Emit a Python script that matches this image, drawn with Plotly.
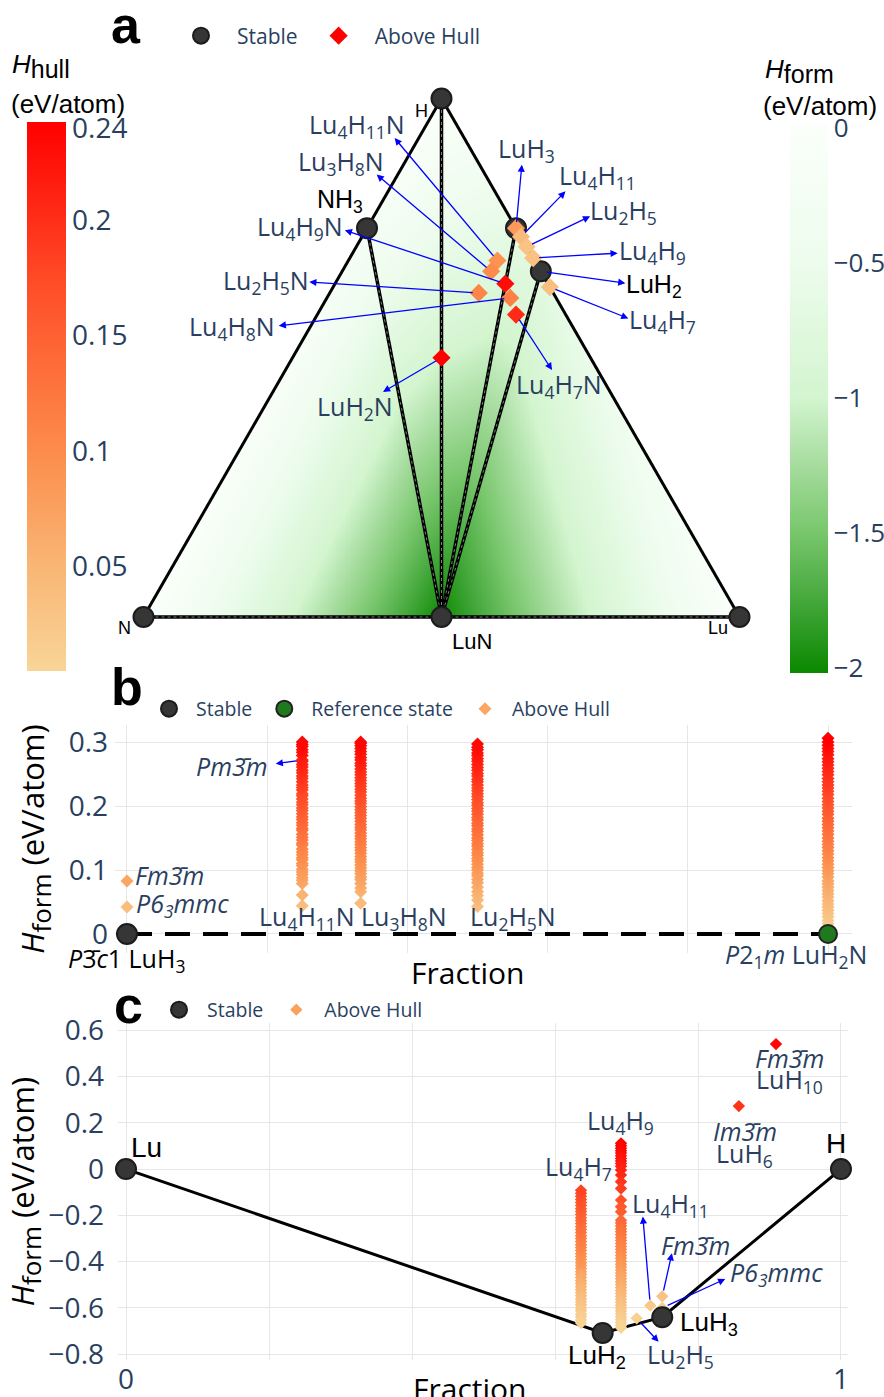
import re
import numpy as np
import plotly.graph_objects as go

W, H = 884, 1397
R3 = np.sqrt(3) / 2

# ======================= DATA =======================
# ---- Panel a: Lu-H-N ternary (formula units Lu, H, N) ----
a_stable_names = ["N", "H", "Lu", "NH3", "LuN", "LuH3", "LuH2"]
a_stable_lu = [0, 0, 1, 0, 1, 1, 1]
a_stable_h = [0, 1, 0, 3, 0, 3, 2]
a_stable_n = [1, 0, 0, 1, 1, 0, 0]
a_stable_hform = [0.0, 0.0, 0.0, -0.20, -2.00, -0.64, -0.70]
a_hull_facets = [("N", "NH3", "LuN"), ("NH3", "H", "LuN"), ("H", "LuH3", "LuN"),
                 ("LuH3", "LuH2", "LuN"), ("LuH2", "Lu", "LuN")]
a_outer_edges = [("N", "H"), ("H", "Lu")]
a_tie_lines = [("N", "Lu"), ("LuN", "NH3"), ("LuN", "H"), ("LuN", "LuH3"), ("LuN", "LuH2")]

a_above_names = ["LuH2N", "Lu4H11N", "Lu3H8N", "Lu4H9N", "Lu2H5N", "Lu4H8N", "Lu4H7N",
                 "LuH3", "Lu4H11", "Lu2H5", "Lu4H9", "Lu4H7"]
a_above_lu = [1, 4, 3, 4, 2, 4, 4, 1, 4, 2, 4, 4]
a_above_h = [2, 11, 8, 9, 5, 8, 7, 3, 11, 5, 9, 7]
a_above_n = [1, 1, 1, 1, 1, 1, 1, 0, 0, 0, 0, 0]
a_above_ehull = [0.243, 0.092, 0.100, 0.232, 0.108, 0.112, 0.205, 0.083, 0.042, 0.030, 0.032, 0.036]
a_hull_ticks = [0.05, 0.1, 0.15, 0.2, 0.24]
a_form_ticks = [0, -0.5, -1, -1.5, -2]

# ---- Panel b: LuH3 -> LuH2N section (fraction of LuH2N) ----
b_stable_names = ["LuH3"]
b_stable_x = [0.0]
b_stable_y = [0.0]
b_ref_names = ["LuH2N"]
b_ref_x = [1.0]
b_ref_y = [0.0]
b_groups = ["LuH3", "Lu4H11N", "Lu3H8N", "Lu2H5N", "LuH2N"]
b_group_x = [0.0, 0.25, 1 / 3, 0.5, 1.0]
b_luh3_y = [0.083, 0.042]
b_lu4h11n_y = [0.044, 0.061, 0.079, 0.084, 0.088, 0.093, 0.097, 0.101, 0.107, 0.110, 0.116, 0.119,
               0.124, 0.128, 0.133, 0.139, 0.142, 0.147, 0.151, 0.156, 0.162, 0.165, 0.170, 0.174,
               0.179, 0.183, 0.188, 0.193, 0.197, 0.202, 0.206, 0.211, 0.216, 0.219, 0.225, 0.229,
               0.233, 0.238, 0.243, 0.247, 0.252, 0.256, 0.261, 0.265, 0.270, 0.272, 0.279, 0.284,
               0.288, 0.293, 0.296, 0.300]
b_lu3h8n_y = [0.048, 0.066, 0.072, 0.079, 0.085, 0.089, 0.094, 0.099, 0.103, 0.108, 0.113, 0.117,
              0.121, 0.126, 0.131, 0.135, 0.140, 0.144, 0.149, 0.153, 0.158, 0.163, 0.167, 0.171,
              0.176, 0.181, 0.185, 0.190, 0.194, 0.199, 0.204, 0.208, 0.212, 0.217, 0.222, 0.226,
              0.231, 0.235, 0.240, 0.244, 0.249, 0.253, 0.258, 0.263, 0.267, 0.272, 0.276, 0.281,
              0.285, 0.290, 0.294, 0.298, 0.300]
b_lu2h5n_y = [0.043, 0.053, 0.060, 0.066, 0.073, 0.080, 0.085, 0.091, 0.095, 0.100, 0.104, 0.109,
              0.114, 0.118, 0.123, 0.127, 0.132, 0.137, 0.141, 0.146, 0.150, 0.155, 0.160, 0.164,
              0.169, 0.173, 0.178, 0.182, 0.187, 0.192, 0.196, 0.201, 0.205, 0.210, 0.215, 0.219,
              0.224, 0.228, 0.233, 0.238, 0.242, 0.247, 0.251, 0.256, 0.260, 0.265, 0.270, 0.274,
              0.279, 0.283, 0.288, 0.292, 0.297]
b_luh2n_y = [0.006, 0.011, 0.016, 0.021, 0.027, 0.032, 0.037, 0.042, 0.047, 0.052, 0.058, 0.063,
             0.068, 0.073, 0.078, 0.083, 0.089, 0.094, 0.099, 0.104, 0.109, 0.114, 0.119, 0.125,
             0.130, 0.135, 0.140, 0.145, 0.150, 0.156, 0.161, 0.166, 0.171, 0.176, 0.181, 0.187,
             0.192, 0.197, 0.202, 0.207, 0.212, 0.218, 0.223, 0.228, 0.233, 0.238, 0.243, 0.249,
             0.254, 0.259, 0.264, 0.269, 0.274, 0.280, 0.285, 0.290, 0.295, 0.300, 0.306]
b_group_y = [b_luh3_y, b_lu4h11n_y, b_lu3h8n_y, b_lu2h5n_y, b_luh2n_y]
b_pm3m_point = (0.25, 0.272)
b_ticks_y = [0, 0.1, 0.2, 0.3]

# ---- Panel c: Lu-H binary hull (H fraction) ----
c_stable_names = ["Lu", "LuH2", "LuH3", "H"]
c_stable_x = [0.0, 2 / 3, 0.75, 1.0]
c_stable_y = [0.0, -0.708, -0.640, 0.0]
c_lu4h7_x = 7 / 11
c_lu4h7_y = [-0.444, -0.430, -0.417, -0.405, -0.391, -0.378, -0.366, -0.352, -0.339, -0.327,
             -0.313, -0.300, -0.288, -0.274, -0.261, -0.249, -0.235, -0.222, -0.210, -0.196,
             -0.183, -0.171, -0.157, -0.144, -0.132, -0.118, -0.105, -0.092,
             -0.456, -0.469, -0.483, -0.495, -0.508, -0.522, -0.534, -0.547, -0.561, -0.573,
             -0.586, -0.600, -0.612, -0.627, -0.638, -0.652, -0.665]
c_lu4h9_x = 9 / 13
c_lu4h9_y = [0.111, 0.101, 0.090, 0.079, 0.069, 0.057, 0.046, 0.035, 0.024, 0.012, -0.004,
             -0.026, -0.055, -0.084, -0.134, -0.163, -0.184, -0.221, -0.233, -0.246, -0.259,
             -0.271, -0.284, -0.297, -0.309, -0.322, -0.335, -0.347, -0.360, -0.373, -0.385,
             -0.398, -0.411, -0.423, -0.436, -0.449, -0.461, -0.474, -0.487, -0.499, -0.512,
             -0.525, -0.537, -0.550, -0.563, -0.575, -0.588, -0.601, -0.613, -0.626, -0.639,
             -0.651, -0.664, -0.676, -0.686]
c_other_names = ["LuH3 Fm-3m", "LuH3 P63mmc", "Lu4H11", "Lu2H5", "LuH6 Im-3m", "LuH10 Fm-3m"]
c_other_x = [0.75, 0.75, 11 / 15, 5 / 7, 6 / 7, 10 / 11]
c_other_y = [-0.550, -0.600, -0.590, -0.645, 0.272, 0.540]
c_ticks_x = [0, 0.2, 0.4, 0.6, 0.8, 1.0]
c_ticktext_x = ["0", "", "", "", "", "1"]

# ======================= STYLE =======================
HULL_CS = [[0.0, "#f8d597"], [0.2, "#f9b473"], [0.4, "#fc8c4b"], [0.7, "#ff4e28"], [1.0, "#ff0000"]]
FORM_CS = [[0.0, "#0a8800"], [0.133, "#45a83c"], [0.256, "#78c66c"], [0.379, "#a6dc9e"],
           [0.502, "#d3f5cf"], [0.75, "#edfced"], [1.0, "#fbfffb"]]
GRID = "#e6e6e6"
BLUE_TXT = "#2a3f5f"
OS = "Open Sans"
LS = "Liberation Sans, Arial"
STABLE_MARKER = dict(color="#363636", size=20, line=dict(color="#1c1c1c", width=2))
TICK = 28


def sub(f):
    return re.sub(r"(\d+)", r"<sub>\1</sub>", f)


def tern(lu, h, n):
    t = lu + h + n
    return lu / t + 0.5 * h / t, R3 * h / t


OV3 = "3\u0304"

fig = go.Figure()

# ---------------- Panel a ----------------
pos = {nm: tern(l, h, n) for nm, l, h, n in zip(a_stable_names, a_stable_lu, a_stable_h, a_stable_n)}
eng = dict(zip(a_stable_names, a_stable_hform))

gx = np.linspace(0, 1, 361)
gy = np.linspace(0, R3, 313)
GX, GY = np.meshgrid(gx, gy)
Z = np.full(GX.shape, np.nan)
for f in a_hull_facets:
    (x1, y1), (x2, y2), (x3, y3) = [pos[k] for k in f]
    e1, e2, e3 = [eng[k] for k in f]
    det = (y2 - y3) * (x1 - x3) + (x3 - x2) * (y1 - y3)
    l1 = ((y2 - y3) * (GX - x3) + (x3 - x2) * (GY - y3)) / det
    l2 = ((y3 - y1) * (GX - x3) + (x1 - x3) * (GY - y3)) / det
    l3 = 1 - l1 - l2
    ins = (l1 >= -1e-9) & (l2 >= -1e-9) & (l3 >= -1e-9)
    Z[ins] = (l1 * e1 + l2 * e2 + l3 * e3)[ins]

fig.add_trace(go.Heatmap(
    x=gx, y=gy, z=Z, colorscale=FORM_CS, zmin=-2.02, zmax=0.01, zsmooth=False,
    hoverinfo="skip", xaxis="x", yaxis="y", showlegend=False,
    colorbar=dict(x=790 / W, xanchor="left", xpad=0, y=1 - 125 / H, yanchor="top", ypad=0,
                  thickness=38, thicknessmode="pixels", len=548, lenmode="pixels",
                  outlinewidth=0, tickvals=a_form_ticks, tickfont=dict(size=26, family=OS, color=BLUE_TXT))))

for a, b in a_outer_edges:
    fig.add_trace(go.Scatter(x=[pos[a][0], pos[b][0]], y=[pos[a][1], pos[b][1]], mode="lines",
                             line=dict(color="black", width=3), showlegend=False, hoverinfo="skip",
                             xaxis="x", yaxis="y", cliponaxis=False))
for a, b in a_tie_lines:
    xs = [pos[a][0], pos[b][0]]
    ys = [pos[a][1], pos[b][1]]
    fig.add_trace(go.Scatter(x=xs, y=ys, mode="lines", line=dict(color="black", width=3.5),
                             showlegend=False, hoverinfo="skip", xaxis="x", yaxis="y", cliponaxis=False))
    fig.add_trace(go.Scatter(x=xs, y=ys, mode="lines", line=dict(color="#7a7a7a", width=1, dash="dot"),
                             showlegend=False, hoverinfo="skip", xaxis="x", yaxis="y", cliponaxis=False))

fig.add_trace(go.Scatter(
    x=[pos[k][0] for k in a_stable_names], y=[pos[k][1] for k in a_stable_names],
    mode="markers", marker=STABLE_MARKER, name="Stable", text=a_stable_names,
    xaxis="x", yaxis="y", legend="legend", cliponaxis=False))

apos = [tern(l, h, n) for l, h, n in zip(a_above_lu, a_above_h, a_above_n)]
apos_d = dict(zip(a_above_names, apos))
fig.add_trace(go.Scatter(
    x=[p[0] for p in apos], y=[p[1] for p in apos], mode="markers", name="Above Hull",
    text=a_above_names, xaxis="x", yaxis="y", legend="legend", cliponaxis=False,
    marker=dict(symbol="diamond", size=14, color=a_above_ehull, colorscale=HULL_CS,
                cmin=0.0045, cmax=0.2426, showscale=True,
                colorbar=dict(x=27 / W, xanchor="left", xpad=0, y=1 - 122 / H, yanchor="top", ypad=0,
                              thickness=39, thicknessmode="pixels", len=549, lenmode="pixels",
                              outlinewidth=0, tickvals=a_hull_ticks,
                              tickfont=dict(size=TICK, family=OS, color=BLUE_TXT)))))

# ---------------- Panel b ----------------
bx, by = [], []
for gxv, ys in zip(b_group_x, b_group_y):
    bx += [gxv] * len(ys)
    by += ys
fig.add_trace(go.Scatter(x=[b_stable_x[0], b_ref_x[0]], y=[b_stable_y[0], b_ref_y[0]], mode="lines",
                         line=dict(color="black", width=4, dash="25px,13px"), showlegend=False,
                         hoverinfo="skip", xaxis="x2", yaxis="y2"))
fig.add_trace(go.Scatter(x=bx, y=by, mode="markers", name="Above Hull", xaxis="x2", yaxis="y2",
                         legend="legend2", legendrank=3, cliponaxis=False,
                         marker=dict(symbol="diamond", size=10, color=by, colorscale=HULL_CS,
                                     cmin=0.0, cmax=0.306, showscale=False)))
fig.add_trace(go.Scatter(x=b_stable_x, y=b_stable_y, mode="markers", name="Stable", text=b_stable_names,
                         marker=STABLE_MARKER, xaxis="x2", yaxis="y2", legend="legend2", legendrank=1,
                         cliponaxis=False))
fig.add_trace(go.Scatter(x=b_ref_x, y=b_ref_y, mode="markers", name="Reference state", text=b_ref_names,
                         marker=dict(color="#1f7a1f", size=18, line=dict(color="#222", width=2)),
                         xaxis="x2", yaxis="y2", legend="legend2", legendrank=2, cliponaxis=False))

# ---------------- Panel c ----------------
cx = [c_lu4h7_x] * len(c_lu4h7_y) + [c_lu4h9_x] * len(c_lu4h9_y) + c_other_x
cy = c_lu4h7_y + c_lu4h9_y + c_other_y
c_ehull = list(np.array(cy) - np.interp(cx, c_stable_x, c_stable_y))
fig.add_trace(go.Scatter(x=c_stable_x, y=c_stable_y, mode="lines", line=dict(color="black", width=3),
                         showlegend=False, hoverinfo="skip", xaxis="x3", yaxis="y3"))
fig.add_trace(go.Scatter(x=cx, y=cy, mode="markers", name="Above Hull", xaxis="x3", yaxis="y3",
                         legend="legend3", legendrank=2, cliponaxis=False,
                         marker=dict(symbol="diamond", size=9.5, color=c_ehull, colorscale=HULL_CS,
                                     cmin=0.0, cmax=0.79, showscale=False)))
fig.add_trace(go.Scatter(x=c_stable_x, y=c_stable_y, mode="markers", name="Stable", text=c_stable_names,
                         marker=STABLE_MARKER, xaxis="x3", yaxis="y3", legend="legend3", legendrank=1,
                         cliponaxis=False))

# ======================= ANNOTATIONS =======================
anns = []


def label(xr, yr, x, y, text, dx, dy, size=25, color=BLUE_TXT, family=OS):
    anns.append(dict(xref=xr, yref=yr, x=x, y=y, text=text, showarrow=False, xshift=dx, yshift=-dy,
                     xanchor="center", yanchor="middle", font=dict(size=size, color=color, family=family)))


def arrow(xr, yr, x, y, hx, hy):
    anns.append(dict(xref=xr, yref=yr, x=x, y=y, ax=hx, ay=hy, text="", showarrow=True,
                     arrowside="start", startarrowhead=2, startarrowsize=1.1, arrowwidth=1.3,
                     arrowcolor="#0000ff", standoff=6))


# panel a labels: (name, arrow head offset px, label offset px)
a_specs = [("Lu4H11N", (-104, -124), (-140, -134.7)), ("Lu3H8N", (-116, -98), (-150, -108.5)),
           ("Lu4H9N", (-162, -54), (-205, -56)), ("Lu2H5N", (-171, -11), (-212.6, -11.2)),
           ("Lu4H8N", (-233, 28), (-277.8, 29.6)), ("LuH2N", (-60, 35), (-86.8, 49.7)),
           ("LuH3", (6, -65), (10.7, -78.4)), ("Lu4H11", (46, -47), (76.5, -60.5)),
           ("Lu2H5", (65, -31), (97, -35)), ("Lu4H9", (86, -5), (119.8, -6.8)),
           ("Lu4H7", (80, 32), (113, 33.4)), ("Lu4H7N", (37, 57), (43, 71.3))]
for nm, hd, lb in a_specs:
    p = apos_d[nm]
    arrow("x", "y", p[0], p[1], *hd)
    label("x", "y", p[0], p[1], sub(nm), *lb)
p = pos["LuH2"]
arrow("x", "y", p[0], p[1], 86, 12)
label("x", "y", p[0], p[1], sub("LuH2"), 113.4, 14.2, color="black", family=LS)
label("x", "y", pos["NH3"][0], pos["NH3"][1], sub("NH3"), -27.3, -27.3, color="black", family=LS)
label("x", "y", pos["H"][0], pos["H"][1], "H", -20, 12.3, size=18, color="black", family=LS)
label("x", "y", pos["N"][0], pos["N"][1], "N", -19.5, 10.5, size=18, color="black", family=LS)
label("x", "y", pos["Lu"][0], pos["Lu"][1], "Lu", -22, 10.5, size=18, color="black", family=LS)
label("x", "y", pos["LuN"][0], pos["LuN"][1], "LuN", 30, 24.5, size=22, color="black", family=LS)

# panel b labels
arrow("x2", "y2", b_pm3m_point[0], b_pm3m_point[1], -28, 4)
label("x2", "y2", b_pm3m_point[0], b_pm3m_point[1], "<i>Pm" + OV3 + "m</i>", -70, 5.6)
label("x2", "y2", 0, b_luh3_y[0], "<i>Fm" + OV3 + "m</i>", 43, -6)
label("x2", "y2", 0, b_luh3_y[1], "<i>P6<sub>3</sub>mmc</i>", 55.5, -2.4)
label("x2", "y2", 0, 0, "<i>P</i>" + OV3 + "<i>c</i>1 LuH<sub>3</sub>", 0, 25.5, color="black")
label("x2", "y2", 0.25, 0, sub("Lu4H11N"), 4.5, -16)
label("x2", "y2", 1 / 3, 0, sub("Lu3H8N"), 43.3, -16)
label("x2", "y2", 0.5, 0, sub("Lu2H5N"), 35, -16.5)
label("x2", "y2", 1, 0, "<i>P</i>2<sub>1</sub><i>m</i> LuH<sub>2</sub>N", -32, 22)

# panel c labels
label("x3", "y3", 0, 0, "Lu", 20, -22, size=28, color="black", family=LS)
label("x3", "y3", 1, 0, "H", -4.5, -26, size=28, color="black", family=LS)
label("x3", "y3", c_stable_x[1], c_stable_y[1], sub("LuH2"), -5.2, 24, size=26, color="black", family=LS)
label("x3", "y3", c_stable_x[2], c_stable_y[2], sub("LuH3"), 47, 6, size=26, color="black", family=LS)
label("x3", "y3", c_lu4h7_x, max(c_lu4h7_y), sub("Lu4H7"), -3, -23)
label("x3", "y3", c_lu4h9_x, max(c_lu4h9_y), sub("Lu4H9"), -0.5, -22)
arrow("x3", "y3", c_other_x[2], c_other_y[2], -7.6, -90.6)
label("x3", "y3", c_other_x[2], c_other_y[2], sub("Lu4H11"), 19.7, -101.6)
arrow("x3", "y3", c_other_x[0], c_other_y[0], 10, -44.6)
label("x3", "y3", c_other_x[0], c_other_y[0], "<i>Fm" + OV3 + "m</i>", 33.3, -51.3)
arrow("x3", "y3", c_other_x[1], c_other_y[1], 64.5, -29.6)
label("x3", "y3", c_other_x[1], c_other_y[1], "<i>P6<sub>3</sub>mmc</i>", 113.8, -34.9)
arrow("x3", "y3", c_other_x[3], c_other_y[3], 23.3, 25)
label("x3", "y3", c_other_x[3], c_other_y[3], sub("Lu2H5"), 43.6, 36.7)
label("x3", "y3", c_other_x[4], c_other_y[4], "<i>Im" + OV3 + "m</i>", 5.8, 24.5)
label("x3", "y3", c_other_x[4], c_other_y[4], sub("LuH6"), 5.4, 48)
label("x3", "y3", c_other_x[5], c_other_y[5], "<i>Fm" + OV3 + "m</i>", 13.5, 14)
label("x3", "y3", c_other_x[5], c_other_y[5], sub("LuH10"), 13.3, 36)

# panel letters, colorbar titles, x titles
for t, x, y in [("a", 126, 24.5), ("b", 127.5, 687), ("c", 128, 1005)]:
    anns.append(dict(xref="paper", yref="paper", x=x / W, y=1 - y / H, text="<b>" + t + "</b>",
                     showarrow=False, xanchor="center", yanchor="middle",
                     font=dict(size=52, color="black", family=LS)))
for t, x, y in [("<i>H</i><sub><span style='font-size:25px'>hull</span></sub>", 10, 66),
                ("(eV/atom)", 9, 104),
                ("<i>H</i><sub><span style='font-size:25px'>form</span></sub>", 763, 71),
                ("(eV/atom)", 761, 106)]:
    anns.append(dict(xref="paper", yref="paper", x=x / W, y=1 - y / H, text=t, showarrow=False,
                     xanchor="left", yanchor="middle", font=dict(size=26, color="black", family=LS)))
for x, y in [(468, 972), (470, 1388)]:
    anns.append(dict(xref="paper", yref="paper", x=x / W, y=1 - y / H, text="Fraction", showarrow=False,
                     xanchor="center", yanchor="middle", font=dict(size=30, color="black", family=OS)))

YT = "<i>H</i><sub><span style='font-size:26px'>form</span></sub> (eV/atom)"

fig.update_layout(
    width=W, height=H, margin=dict(l=0, r=0, t=0, b=0, autoexpand=False),
    paper_bgcolor="white", plot_bgcolor="white",
    font=dict(family=OS, color=BLUE_TXT),
    annotations=anns,
    xaxis=dict(domain=[131.58 / W, 751.42 / W], range=[-0.02, 1.02], visible=False, anchor="y"),
    yaxis=dict(domain=[1 - 628.97 / H, 1 - 86.55 / H], range=[-0.02, 0.886], visible=False, anchor="x"),
    xaxis2=dict(domain=[115 / W, 852 / W], range=[-0.0171, 1.0342], tickvals=c_ticks_x,
                showticklabels=False, showgrid=True, gridcolor=GRID, zeroline=False, showline=False,
                anchor="y2"),
    yaxis2=dict(domain=[1 - 953 / H, 1 - 725 / H], range=[-0.0297, 0.3266], tickvals=b_ticks_y,
                tickfont=dict(size=TICK), gridcolor=GRID, zeroline=False, showline=False, anchor="x2",
                ticklabelstandoff=6,
                title=dict(text=YT, font=dict(size=31, color="black", family=OS), standoff=14)),
    xaxis3=dict(domain=[118 / W, 848 / W], range=[-0.0112, 1.0098], tickvals=c_ticks_x,
                ticktext=c_ticktext_x, tickfont=dict(size=TICK), gridcolor=GRID, zeroline=False,
                showline=False, anchor="y3", ticklabelstandoff=0),
    yaxis3=dict(domain=[1 - 1360 / H, 1 - 1023 / H], range=[-0.825, 0.631], dtick=0.2, tick0=0,
                tickfont=dict(size=TICK), gridcolor=GRID, zeroline=False, showline=False, anchor="x3",
                ticklabelstandoff=13,
                title=dict(text=YT, font=dict(size=31, color="black", family=OS), standoff=1)),
    legend=dict(orientation="h", x=165 / W, xanchor="left", y=1 - 36 / H, yanchor="middle",
                itemwidth=62, font=dict(size=21), bgcolor="rgba(0,0,0,0)"),
    legend2=dict(orientation="h", x=142 / W, xanchor="left", y=1 - 709 / H, yanchor="middle",
                 itemwidth=44, font=dict(size=19.5), bgcolor="rgba(0,0,0,0)"),
    legend3=dict(orientation="h", x=151 / W, xanchor="left", y=1 - 1010 / H, yanchor="middle",
                 itemwidth=46, font=dict(size=19.5), bgcolor="rgba(0,0,0,0)"),
)

fig.write_html("out.html", config={"displayModeBar": False},
               post_script="document.body.style.margin='0px';document.body.style.overflow='hidden';")
